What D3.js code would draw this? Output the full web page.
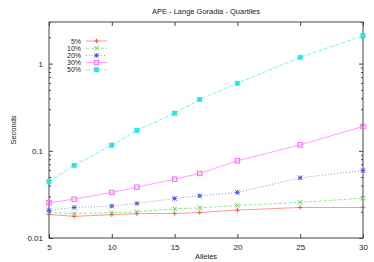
<!DOCTYPE html>
<html>
<head>
<meta charset="utf-8">
<script src="https://cdn.jsdelivr.net/npm/d3@7"></script>
<style>
  body { margin: 0; background: #fff; }
  text { font-family: "Liberation Sans", Arial, sans-serif; fill: #222; }
</style>
</head>
<body>
<div class="chart"></div>
<script>
// data
var alleles = [5, 7, 10, 12, 15, 17, 20, 25, 30];
var p5  = [0.0186, 0.0177, 0.0185, 0.0190, 0.0191, 0.0196, 0.0209, 0.0224, 0.0224];
var p10 = [0.0195, 0.0191, 0.0195, 0.0200, 0.0216, 0.0222, 0.0236, 0.0256, 0.0286];
var p20 = [0.0207, 0.0224, 0.0232, 0.0249, 0.0284, 0.0305, 0.0333, 0.0490, 0.0594];
var p30 = [0.0254, 0.0279, 0.0333, 0.0383, 0.0473, 0.0550, 0.0768, 0.117, 0.190];
var p50 = [0.0445, 0.068, 0.116, 0.171, 0.270, 0.387, 0.595, 1.18, 2.09];
var seriesNames = ["5%", "10%", "20%", "30%", "50%"];
var yTickVals = [0.01, 0.1, 1];
var yTickLabels = ["0.01", "0.1", "1"];
var xTickVals = [5, 10, 15, 20, 25, 30];

var series = [
  {name: seriesNames[0], values: p5,  color: "#ff5050", dash: null,  marker: "plus"},
  {name: seriesNames[1], values: p10, color: "#40e040", dash: "3,2", marker: "cross"},
  {name: seriesNames[2], values: p20, color: "#5050ff", dash: "1,2", marker: "star"},
  {name: seriesNames[3], values: p30, color: "#ff60ff", dash: null,  marker: "box"},
  {name: seriesNames[4], values: p50, color: "#20e8e8", dash: "4,2", marker: "fbox"}
];

var W = 374, H = 262;
var margin = {top: 22, right: 11, bottom: 24, left: 49};
var width = W - margin.left - margin.right,
    height = H - margin.top - margin.bottom;

var svg = d3.select(".chart").append("svg")
  .attr("width", W).attr("height", H);

var g = svg.append("g")
  .attr("transform", "translate(" + margin.left + "," + margin.top + ")");

var x = d3.scaleLinear().domain([5, 30]).range([0, width]);
var y = d3.scaleLog().domain([0.01, 3]).range([height, 0]);

// minor ticks for log axis
var minor = [];
[0.01, 0.1, 1].forEach(function(d) {
  for (var k = 2; k <= 9; k++) { if (d * k <= 3) minor.push(d * k); }
});

function grey(s) { s.select(".domain").remove(); s.selectAll("line").attr("stroke", "#444"); }

// y axis left
var ya = g.append("g").call(d3.axisLeft(y).tickValues(yTickVals)
  .tickFormat(function(d, i) { return yTickLabels[i]; })
  .tickSizeInner(-4).tickSizeOuter(0).tickPadding(6)).call(grey);
ya.selectAll("text").style("font-size", "8px");
g.append("g").call(d3.axisLeft(y).tickValues(minor).tickFormat("").tickSizeInner(-2).tickSizeOuter(0)).call(grey);

// y mirrored right
g.append("g").attr("transform", "translate(" + width + ",0)")
  .call(d3.axisRight(y).tickValues(yTickVals).tickFormat("").tickSizeInner(-4).tickSizeOuter(0)).call(grey);
g.append("g").attr("transform", "translate(" + width + ",0)")
  .call(d3.axisRight(y).tickValues(minor).tickFormat("").tickSizeInner(-2).tickSizeOuter(0)).call(grey);

// x axis bottom
var xa = g.append("g").attr("transform", "translate(0," + height + ")")
  .call(d3.axisBottom(x).tickValues(xTickVals).tickSizeInner(-4).tickSizeOuter(0).tickPadding(6)).call(grey);
xa.selectAll("text").style("font-size", "8px");

// x mirrored top
g.append("g")
  .call(d3.axisTop(x).tickValues(xTickVals).tickFormat("").tickSizeInner(-4).tickSizeOuter(0)).call(grey);

// frame
g.append("rect").attr("width", width).attr("height", height)
  .attr("fill", "none").attr("stroke", "#444").attr("stroke-width", 1);

// labels
svg.append("text").attr("x", 206).attr("y", 14).attr("text-anchor", "middle")
  .style("font-size", "7.5px").text("APE - Lange Goradia - Quartiles");
svg.append("text").attr("transform", "translate(16,130) rotate(-90)")
  .attr("text-anchor", "middle").style("font-size", "7.5px").text("Seconds");
svg.append("text").attr("x", 206).attr("y", 259).attr("text-anchor", "middle")
  .style("font-size", "7.5px").text("Alleles");

function drawMarker(sel, type, color, cx, cy) {
  var r = 2.2;
  if (type === "plus") {
    sel.append("path").attr("d", "M" + (cx - r) + "," + cy + "H" + (cx + r) + "M" + cx + "," + (cy - r) + "V" + (cy + r))
      .attr("stroke", color).attr("fill", "none");
  } else if (type === "cross") {
    sel.append("path").attr("d", "M" + (cx - r) + "," + (cy - r) + "L" + (cx + r) + "," + (cy + r) + "M" + (cx - r) + "," + (cy + r) + "L" + (cx + r) + "," + (cy - r))
      .attr("stroke", color).attr("fill", "none");
  } else if (type === "star") {
    sel.append("path").attr("d", "M" + (cx - r) + "," + cy + "H" + (cx + r) + "M" + cx + "," + (cy - r) + "V" + (cy + r) +
      "M" + (cx - r) + "," + (cy - r) + "L" + (cx + r) + "," + (cy + r) + "M" + (cx - r) + "," + (cy + r) + "L" + (cx + r) + "," + (cy - r))
      .attr("stroke", color).attr("fill", "none");
  } else if (type === "box") {
    sel.append("rect").attr("x", cx - r).attr("y", cy - r).attr("width", 2 * r).attr("height", 2 * r)
      .attr("fill", "none").attr("stroke", color);
  } else {
    sel.append("rect").attr("x", cx - r).attr("y", cy - r).attr("width", 2 * r).attr("height", 2 * r)
      .attr("fill", color).attr("stroke", color).attr("stroke-width", 0.5);
  }
}

var line = d3.line()
  .x(function(d) { return x(d.x); })
  .y(function(d) { return y(d.y); });

series.forEach(function(s) {
  var pts = alleles.map(function(a, i) { return {x: a, y: s.values[i]}; });
  g.append("path").datum(pts).attr("d", line)
    .attr("fill", "none").attr("stroke", s.color).attr("stroke-width", 0.8)
    .attr("stroke-opacity", 0.75).attr("stroke-dasharray", s.dash);
  var mg = g.append("g");
  pts.forEach(function(p) { drawMarker(mg, s.marker, s.color, x(p.x), y(p.y)); });
});

// legend
var lg = svg.append("g");
series.forEach(function(s, i) {
  var ly = 41 + i * 7.2;
  lg.append("text").attr("x", 81).attr("y", ly + 2.5).attr("text-anchor", "end")
    .style("font-size", "7px").text(s.name);
  lg.append("line").attr("x1", 86).attr("x2", 107).attr("y1", ly).attr("y2", ly)
    .attr("stroke", s.color).attr("stroke-width", 0.8).attr("stroke-opacity", 0.75)
    .attr("stroke-dasharray", s.dash);
  drawMarker(lg, s.marker, s.color, 96.5, ly);
});
</script>
</body>
</html>
